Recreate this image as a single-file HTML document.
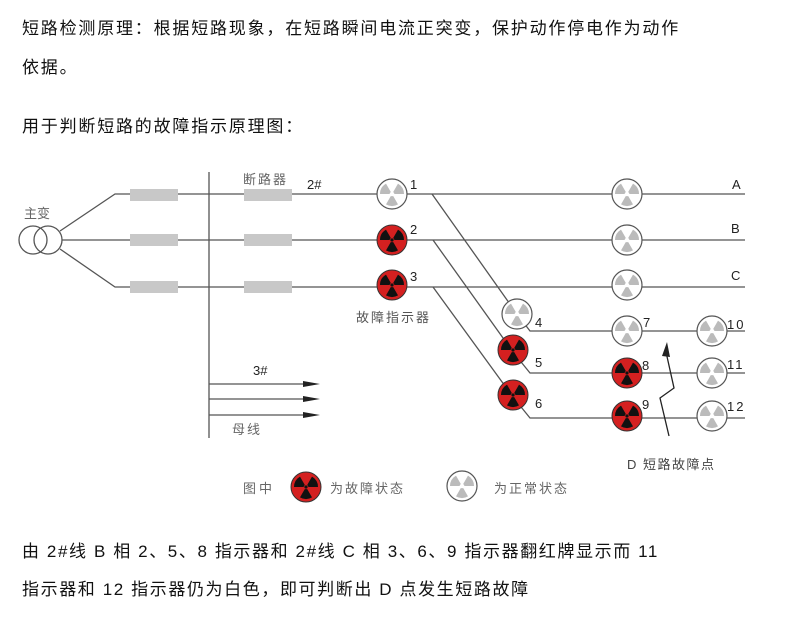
<!DOCTYPE html>
<html><head><meta charset="utf-8"><style>
html,body{margin:0;padding:0;background:#fff;}
body{width:790px;height:618px;position:relative;overflow:hidden;font-family:"Liberation Sans","Noto Sans CJK SC",sans-serif;color:#111;}
.t{position:absolute;left:22px;font-size:17px;letter-spacing:1.8px;white-space:nowrap;line-height:20px;}
.b{letter-spacing:1.6px;}
svg{position:absolute;left:0;top:0;}
</style></head><body>
<div class="t" style="top:19px">短路检测原理：根据短路现象，在短路瞬间电流正突变，保护动作停电作为动作</div>
<div class="t" style="top:58px">依据。</div>
<div class="t" style="top:117px">用于判断短路的故障指示原理图：</div>
<div class="t b" style="top:542px">由 2#线 B 相 2、5、8 指示器和 2#线 C 相 3、6、9 指示器翻红牌显示而 11</div>
<div class="t b" style="top:580px">指示器和 12 指示器仍为白色，即可判断出 D 点发生短路故障</div>
<svg width="790" height="618" viewBox="0 0 790 618">
<defs>
<g id="secs">
<path d="M-2.5,0 L-12,0 A12,12 0 0 1 -6,-10.39 L-1.25,-2.17 Z"/>
<path d="M1.25,-2.17 L6,-10.39 A12,12 0 0 1 12,0 L2.5,0 Z"/>
<path d="M1.25,2.17 L6,10.39 A12,12 0 0 1 -6,10.39 L-1.25,2.17 Z"/>
</g>
<g id="red"><circle r="15" fill="#d42020" stroke="#333" stroke-width="1"/>
<use href="#secs" fill="#111"/><circle r="1.6" fill="#111"/></g>
<g id="wht"><circle r="15" fill="#fff" stroke="#555" stroke-width="1.2"/>
<use href="#secs" fill="#bbb"/></g>
</defs>
<g stroke="#555" stroke-width="1.3" fill="none">
<circle cx="33" cy="240" r="14"/><circle cx="48" cy="240" r="14"/>
<polyline points="60,231 115,194 745,194"/>
<line x1="62" y1="240" x2="745" y2="240"/>
<polyline points="60,249 115,287 745,287"/>
<line x1="209" y1="172" x2="209" y2="438"/>
<polyline points="432,194 517,314 530,331 745,331"/>
<polyline points="433,240 513,352 530,373 745,373"/>
<polyline points="433,287 513,397 530,418 745,418"/>
<line x1="209" y1="384" x2="312" y2="384"/>
<line x1="209" y1="399" x2="312" y2="399"/>
<line x1="209" y1="415" x2="312" y2="415"/>
<polyline points="669,436 660,398 674,388 666,352" stroke="#222"/>
</g>
<g fill="#222"><path d="M303,381 L320,384 L303,387Z"/><path d="M303,396 L320,399 L303,402Z"/><path d="M303,412 L320,415 L303,418Z"/><path d="M662,356 L667,342 L670,357Z"/></g>
<g fill="#c8c8c8">
<rect x="130" y="189" width="48" height="12"/><rect x="130" y="234" width="48" height="12"/><rect x="130" y="281" width="48" height="12"/>
<rect x="244" y="189" width="48" height="12"/><rect x="244" y="234" width="48" height="12"/><rect x="244" y="281" width="48" height="12"/>
</g>
<use href="#wht" x="392" y="194"/><use href="#red" x="392" y="240"/><use href="#red" x="392" y="285"/>
<use href="#wht" x="627" y="194"/><use href="#wht" x="627" y="240"/><use href="#wht" x="627" y="285"/>
<use href="#wht" x="517" y="314"/><use href="#red" x="513" y="350"/><use href="#red" x="513" y="395"/>
<use href="#wht" x="627" y="331"/><use href="#red" x="627" y="373"/><use href="#red" x="627" y="416"/>
<use href="#wht" x="712" y="331"/><use href="#wht" x="712" y="373"/><use href="#wht" x="712" y="416"/>
<use href="#red" x="306" y="487"/><use href="#wht" x="462" y="486"/>
<g font-family="Liberation Sans, Noto Sans CJK SC, sans-serif" font-size="13" fill="#222">
<text x="24" y="218" fill="#666">主变</text>
<text x="243" y="184" fill="#666" letter-spacing="2">断路器</text>
<text x="307" y="189">2#</text>
<text x="410" y="189">1</text><text x="410" y="234">2</text><text x="410" y="281">3</text>
<text x="356" y="322" fill="#555" letter-spacing="2">故障指示器</text>
<text x="732" y="189">A</text><text x="731" y="233">B</text><text x="731" y="280">C</text>
<text x="535" y="327">4</text><text x="535" y="367">5</text><text x="535" y="408">6</text>
<text x="643" y="327">7</text><text x="642" y="370">8</text><text x="642" y="409">9</text>
<text x="727" y="329" letter-spacing="2">10</text><text x="727" y="369" letter-spacing="2">11</text><text x="727" y="411" letter-spacing="2">12</text>
<text x="253" y="375">3#</text>
<text x="232" y="434" fill="#666" letter-spacing="2">母线</text>
<text x="243" y="493" fill="#666" letter-spacing="3">图中</text>
<text x="330" y="493" fill="#666" letter-spacing="2">为故障状态</text>
<text x="494" y="493" fill="#666" letter-spacing="2">为正常状态</text>
<text x="627" y="469" fill="#444" letter-spacing="1.5">D 短路故障点</text>
</g>
</svg>
</body></html>
